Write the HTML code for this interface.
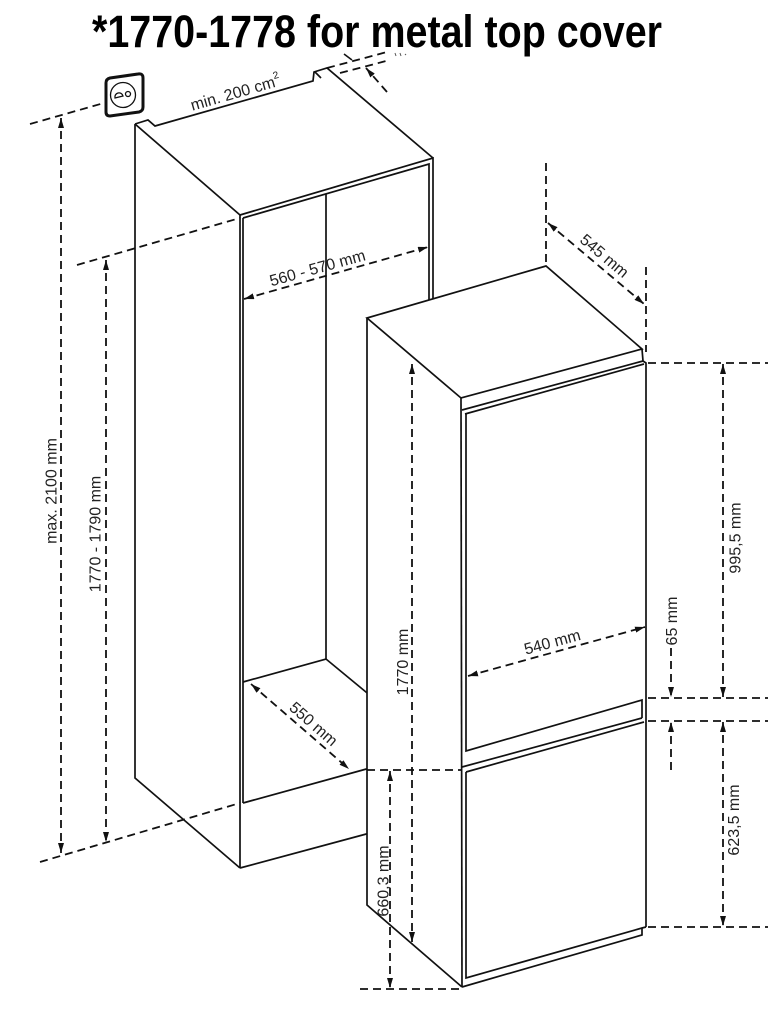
<!DOCTYPE html>
<html><head><meta charset="utf-8"><style>
html,body{margin:0;padding:0;background:#fff;}
svg{display:block;}
text{font-family:"Liberation Sans",Arial,sans-serif;fill:#222;}
</style></head><body>
<svg width="768" height="1013" viewBox="0 0 768 1013" xmlns="http://www.w3.org/2000/svg">
<defs>
<marker id="a" viewBox="0 0 10 6" refX="10" refY="3" markerWidth="10" markerHeight="6" markerUnits="userSpaceOnUse" orient="auto-start-reverse"><path d="M0,0L10,3L0,6z" fill="#111"/></marker>
</defs>
<rect width="768" height="1013" fill="#fff"/>

<!-- Title -->
<text x="92" y="47" font-size="45" font-weight="bold" textLength="570" lengthAdjust="spacingAndGlyphs" style="fill:#000">*1770-1778 for metal top cover</text>

<!-- Socket -->
<path d="M110,78 L138,74 Q143,73 143,78 L143,107 Q143,111 139,112 L110,116 Q106,116 106,112 L106,83 Q106,79 110,78 Z" fill="none" stroke="#111" stroke-width="3"/>
<circle cx="123" cy="95" r="12.5" fill="none" stroke="#111" stroke-width="1.3"/>
<path d="M115,98 A4,4 0 0 1 123,96 L115,98 Z" fill="none" stroke="#111" stroke-width="1.3"/>
<circle cx="128" cy="94" r="2.5" fill="none" stroke="#111" stroke-width="1.3"/>

<!-- Cabinet -->
<g fill="none" stroke="#111" stroke-width="1.7" stroke-linejoin="miter">
<path d="M135,124 L148,120 L155,126 L313,81 L314,72 L327,68 L433,158"/>
<path d="M315,72 L321,78"/>
<path d="M135,124 L135,778 L240,868"/>
<path d="M135,124 L240,215"/>
<path d="M240,215 L240,868"/>
<path d="M240,215 L433,158 L433,310"/>
<path d="M243,218 L429,164 L429,310"/>
<path d="M243,218 L243,803"/>
<path d="M326,194 L326,659"/>
<path d="M243,682 L326,659 L372,697"/>
<path d="M243,803 L370,768"/>
<path d="M240,868 L370,833"/>
</g>
<text x="237" y="98" font-size="16" text-anchor="middle" transform="rotate(-16 237 98)">min. 200 cm<tspan font-size="10" dy="-8">2</tspan></text>

<!-- Cabinet dims -->
<g fill="none" stroke="#111" stroke-width="1.8" stroke-dasharray="8 5">
<path d="M30,124 L104,103"/>
<path d="M61,118 L61,853" marker-start="url(#a)" marker-end="url(#a)"/>
<path d="M77,265 L240,218"/>
<path d="M106,260 L106,842" marker-start="url(#a)" marker-end="url(#a)"/>
<path d="M40,862 L240,803"/>
<path d="M244,299 L428,247" marker-start="url(#a)" marker-end="url(#a)"/>
<path d="M251,684 L349,769" marker-start="url(#a)" marker-end="url(#a)"/>
<path d="M327,68 L387,52"/>
<path d="M340,73 L390,60"/>
<path d="M387,92 L366,68" marker-end="url(#a)"/>
</g>
<path d="M344,54 L352,60" stroke="#111" stroke-width="1.6"/>
<path d="M395,53 L396,56 M400,53 L401,56 M405,54 L406,55" stroke="#555" stroke-width="1"/>
<text font-size="16" text-anchor="middle" transform="translate(56.5,491) rotate(-90)">max. 2100 mm</text>
<text font-size="16" text-anchor="middle" transform="translate(100.5,534) rotate(-90)">1770 - 1790 mm</text>
<text font-size="16" text-anchor="middle" transform="translate(320,277) rotate(-15.6)" y="-4">560 - 570 mm</text>
<text font-size="16" text-anchor="middle" transform="translate(310,728) rotate(41)">550 mm</text>

<!-- Fridge -->
<polygon points="367,318 546,266 642,349 643,361 646,363 646,927 642,935 462,987 367,905" fill="#fff"/>
<g fill="none" stroke="#111" stroke-width="1.7">
<path d="M367,318 L546,266 L642,349 L461,398 Z"/>
<path d="M367,318 L367,905 L462,987"/>
<path d="M461,398 L462,987"/>
<path d="M642,349 L643,361 L646,363 L646,927"/>
<path d="M462,410 L643,361"/>
<path d="M465,414 L644,364"/>
<path d="M466,414 L466,751 L642,700 L642,718"/>
<path d="M462,767 L642,718"/>
<path d="M466,772 L644,722"/>
<path d="M466,772 L466,978 L642,928 L646,927"/>
<path d="M462,987 L642,935 L642,928"/>
</g>

<!-- Fridge dims -->
<g fill="none" stroke="#111" stroke-width="1.8" stroke-dasharray="8 5">
<path d="M546,163 L546,266"/>
<path d="M646,267 L646,352"/>
<path d="M548,223 L644,304" marker-start="url(#a)" marker-end="url(#a)"/>
<path d="M648,363 L768,363"/>
<path d="M723,364 L723,697" marker-start="url(#a)" marker-end="url(#a)"/>
<path d="M648,698 L768,698"/>
<path d="M648,721 L768,721"/>
<path d="M648,927 L768,927"/>
<path d="M723,722 L723,926" marker-start="url(#a)" marker-end="url(#a)"/>
<path d="M671,648 L671,697" marker-end="url(#a)"/>
<path d="M671,770 L671,722" marker-end="url(#a)"/>
<path d="M468,676 L645,627" marker-start="url(#a)" marker-end="url(#a)"/>
<path d="M412,364 L412,942" marker-start="url(#a)" marker-end="url(#a)"/>
<path d="M367,770 L462,770"/>
<path d="M360,989 L462,989"/>
<path d="M390,771 L390,988" marker-start="url(#a)" marker-end="url(#a)"/>
</g>
<text font-size="16" text-anchor="middle" transform="translate(601,260) rotate(40)">545 mm</text>
<text font-size="16" text-anchor="middle" transform="translate(555,652) rotate(-15.3)" y="-5">540 mm</text>
<text font-size="16" text-anchor="middle" transform="translate(408,662) rotate(-90)">1770 mm</text>
<text font-size="16" text-anchor="middle" transform="translate(388.5,881) rotate(-90)">660,3 mm</text>
<text font-size="16" text-anchor="middle" transform="translate(740.5,538) rotate(-90)">995,5 mm</text>
<text font-size="16" text-anchor="middle" transform="translate(677,621) rotate(-90)">65 mm</text>
<text font-size="16" text-anchor="middle" transform="translate(739,820) rotate(-90)">623,5 mm</text>
</svg>
</body></html>
